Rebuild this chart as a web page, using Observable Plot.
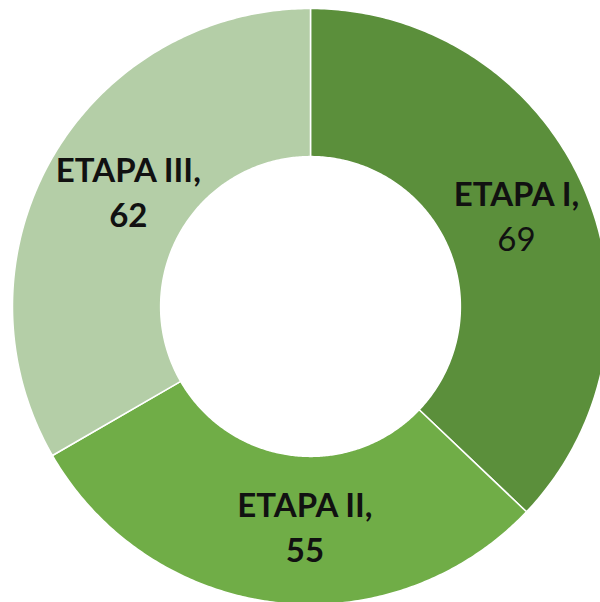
<!DOCTYPE html>
<html>
<head>
<meta charset="utf-8">
<script src="https://cdn.jsdelivr.net/npm/d3@7"></script>
<script src="https://cdn.jsdelivr.net/npm/@observablehq/plot@0.6"></script>
<style>
  html, body { margin: 0; padding: 0; background: #fff; }
  #chart svg { display: block; }
</style>
</head>
<body>
<div id="chart"></div>
<script>
// Data
const categories = ["ETAPA I", "ETAPA II", "ETAPA III"];
const values = [69, 55, 62];
const colors = ["#5B8F3B", "#70AD47", "#B4CEA7"];
const nameBold = [true, true, true];
const valueBold = [false, true, true];

const INNER = 0.503;   // inner radius / outer radius
const LABEL_R = 0.752; // label radius (fraction of outer)

const pie = d3.pie().sort(null).value(d => d.value)(
  categories.map((c, i) => ({ name: c, value: values[i], color: colors[i], i }))
);

// Build polygon outlines for each ring slice (angles from d3.pie)
const ringPts = [];
for (const s of pie) {
  const n = 200;
  const pts = [];
  for (let k = 0; k <= n; k++) {
    const a = s.startAngle + (s.endAngle - s.startAngle) * k / n;
    pts.push([Math.sin(a), Math.cos(a)]);
  }
  for (let k = n; k >= 0; k--) {
    const a = s.startAngle + (s.endAngle - s.startAngle) * k / n;
    pts.push([INNER * Math.sin(a), INNER * Math.cos(a)]);
  }
  pts.push(pts[0]);
  for (const p of pts) ringPts.push({ x: p[0], y: p[1], name: s.data.name, color: s.data.color });
}

// Label positions at mid-angle, mid-ring
const labelOffsets = [0, 0.07, 0.04];
const labels = pie.map((s, i) => {
  const a = (s.startAngle + s.endAngle) / 2;
  return {
    x: LABEL_R * Math.sin(a) + labelOffsets[i],
    y: LABEL_R * Math.cos(a),
    name: s.data.name + ",",
    value: String(s.data.value),
    nb: nameBold[i], vb: valueBold[i]
  };
});

const W = 600, H = 602;
const cx = 310, cy = 306, R = 298;
const FS = 33;

const chart = Plot.plot({
  width: W,
  height: H,
  margin: 0,
  x: { domain: [-cx / R, (W - cx) / R], range: [0, W], axis: null },
  y: { domain: [-(H - cy) / R, cy / R], range: [H, 0], axis: null },
  style: { background: "#fff", fontFamily: "Lato, 'Open Sans', sans-serif" },
  marks: [
    Plot.line(ringPts, {
      x: "x", y: "y", z: "name",
      fill: d => d.color, stroke: "#fff", strokeWidth: 1.5,
      curve: "linear"
    }),
    Plot.text(labels.filter(d => d.nb), {
      x: "x", y: "y", text: "name", dy: -23,
      fontSize: FS, fill: "#111", fontWeight: "bold"
    }),
    Plot.text(labels.filter(d => !d.nb), {
      x: "x", y: "y", text: "name", dy: -23,
      fontSize: FS, fill: "#111", fontWeight: "normal"
    }),
    Plot.text(labels.filter(d => d.vb), {
      x: "x", y: "y", text: "value", dy: 22,
      fontSize: FS, fill: "#111", fontWeight: "bold"
    }),
    Plot.text(labels.filter(d => !d.vb), {
      x: "x", y: "y", text: "value", dy: 22,
      fontSize: FS, fill: "#111", fontWeight: "normal"
    })
  ]
});
document.getElementById("chart").appendChild(chart);
</script>
</body>
</html>
